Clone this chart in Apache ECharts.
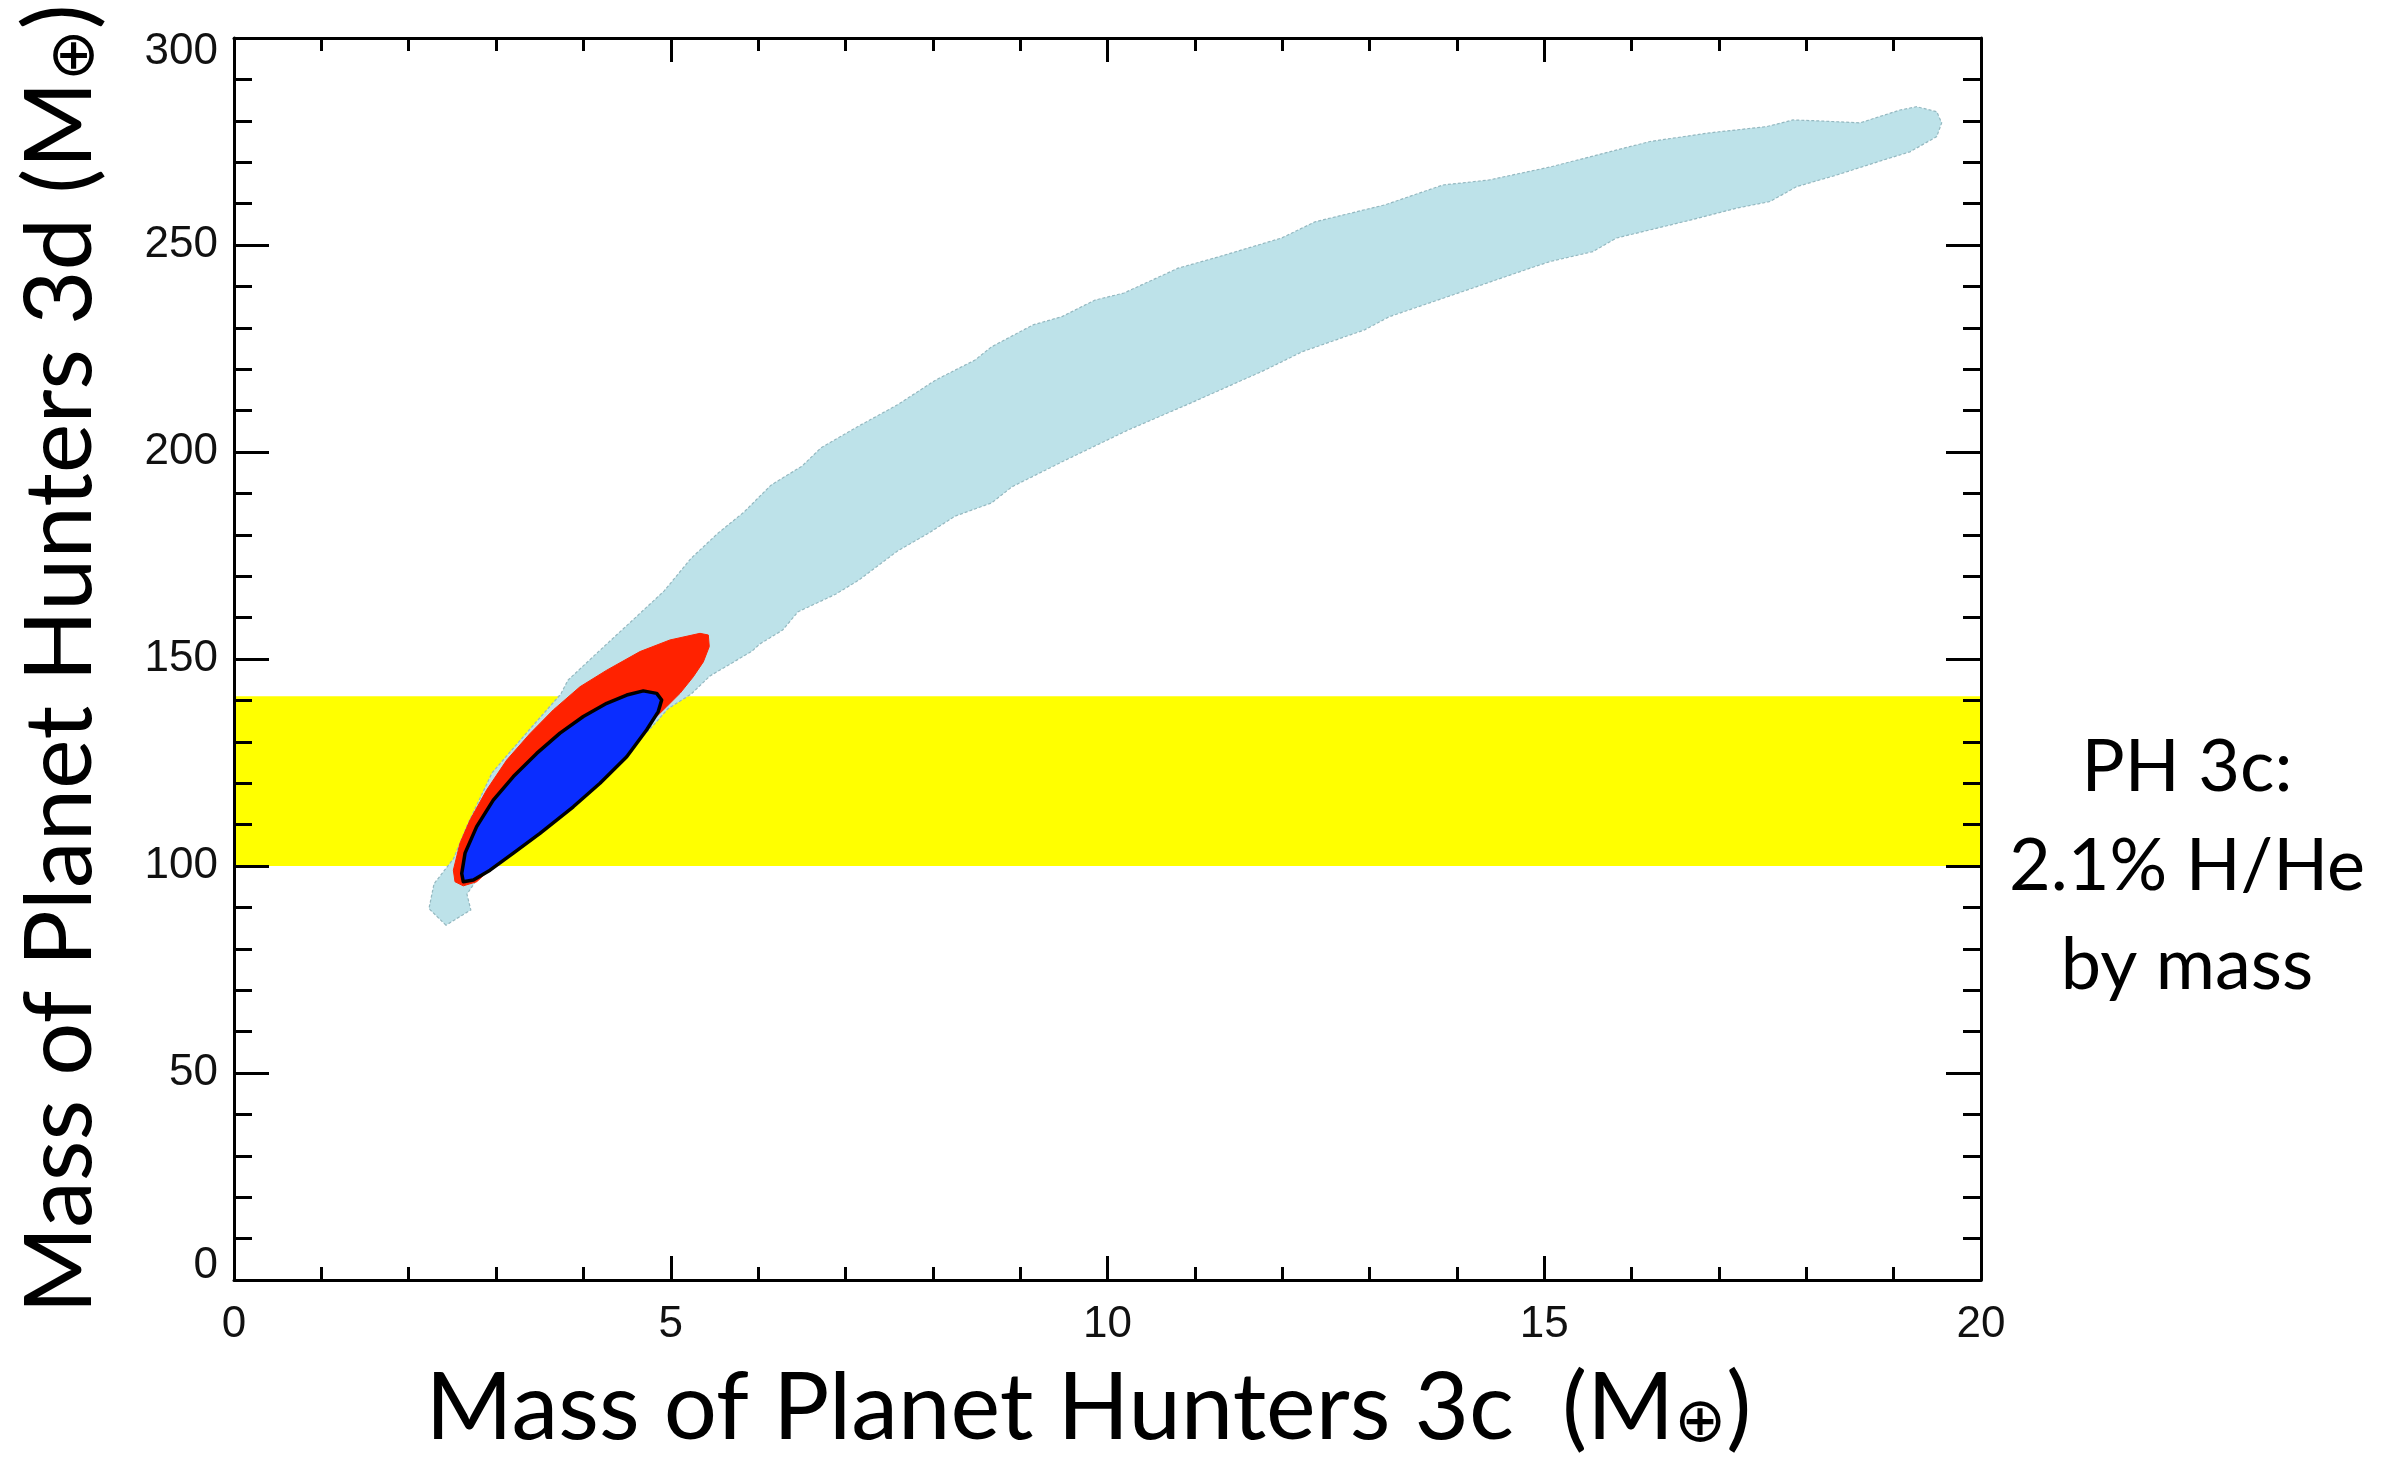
<!DOCTYPE html>
<html>
<head>
<meta charset="utf-8">
<script src="https://cdn.jsdelivr.net/npm/echarts@6/dist/echarts.min.js"></script>
<style>
html,body{margin:0;padding:0;background:#fff;}
#chart{width:2381px;height:1461px;}
</style>
</head>
<body>
<div id="chart"></div>
<script>
// ---- data ----
const xRange = [0, 20];
const yRange = [0, 300];
const xInterval = 5;
const yInterval = 50;
const yellowBand = [100, 141]; // PH 3c with 2.1% H/He by mass

// light blue (outer) confidence region: [M_3c, M_3d]
const lightBlueRegion = [
  [2.427,85.7],[2.232,89.7],[2.290,95.7],[2.514,101.8],[2.667,109.7],[2.954,122.5],
  [3.343,132.0],[3.740,141.5],[3.824,144.9],[4.179,151.9],[4.529,158.7],[4.923,166.4],
  [5.232,174.3],[5.536,180.3],[5.839,185.5],[6.148,192.0],[6.503,196.6],[6.720,201.0],
  [7.155,206.3],[7.596,211.4],[8.034,217.4],[8.483,222.2],[8.672,225.4],[9.147,230.7],
  [9.479,232.7],[9.857,236.7],[10.189,238.4],[10.807,244.4],[11.282,247.2],[11.994,251.7],
  [12.376,255.6],[13.177,259.7],[13.841,264.5],[14.368,265.7],[15.078,268.9],[15.524,271.3],
  [16.211,275.0],[16.898,277.1],[17.547,278.6],[17.848,280.2],[18.119,280.0],[18.615,279.5],
  [19.073,282.6],[19.264,283.4],[19.493,282.2],[19.550,279.5],[19.493,276.2],[19.187,272.5],
  [18.878,270.5],[18.348,266.9],[17.890,264.1],[17.584,260.5],[17.203,258.9],[16.669,256.0],
  [15.829,251.7],[15.558,248.4],[15.066,246.0],[14.837,244.4],[13.892,237.5],[13.228,232.7],
  [12.943,229.5],[12.227,224.2],[11.803,219.8],[10.950,211.8],[10.235,205.3],[9.525,198.1],
  [8.907,191.6],[8.672,187.7],[8.254,184.5],[7.945,180.3],[7.596,176.1],[7.155,169.1],
  [6.892,165.7],[6.457,161.4],[6.281,157.0],[6.018,153.6],[5.930,151.9],[5.449,145.9],
  [5.232,141.5],[4.969,138.0],[4.792,133.8],[4.350,124.2],[3.915,116.4],[3.478,108.7],
  [3.040,101.8],[2.776,96.6],[2.667,93.2],[2.711,89.4]
];

// red (middle) confidence region
const redRegion = [
  [5.430,155.8],[5.335,156.2],[4.991,154.6],[4.648,151.8],[4.267,147.3],[3.961,143.3],
  [3.655,137.7],[3.389,132.0],[3.122,125.6],[2.893,118.4],[2.702,111.1],[2.587,105.5],
  [2.511,99.0],[2.530,96.2],[2.625,95.2],[2.778,96.2],[2.968,99.8],[3.274,105.5],
  [3.580,111.1],[3.884,116.7],[4.190,122.8],[4.496,128.8],[4.762,134.5],[4.954,138.5],
  [5.106,141.7],[5.258,145.7],[5.373,149.3],[5.441,153.0]
];

// blue (inner) confidence region
const blueRegion = [
  [4.839,141.7],[4.896,140.1],[4.857,137.3],[4.725,132.9],[4.496,126.4],[4.190,120.0],
  [3.884,114.3],[3.503,107.9],[3.198,103.1],[2.931,99.0],[2.740,96.6],[2.625,96.2],
  [2.607,98.2],[2.645,103.1],[2.778,109.5],[2.968,115.9],[3.198,121.6],[3.465,127.2],
  [3.732,132.1],[3.999,136.1],[4.267,139.3],[4.496,141.3],[4.686,142.3]
];

const xTitle = 'Mass of Planet Hunters 3c  (M{sub|⊕})';
const yTitle = 'Mass of Planet Hunters 3d (M{sub|⊕})';
const sideNote = ['PH 3c:', '2.1% H/He', 'by mass'];

// ---- chart ----
const chart = echarts.init(document.getElementById('chart'), null, {renderer: 'canvas'});

function polygonSeries(name, pts, style, z) {
  return {
    name: name,
    type: 'custom',
    xAxisIndex: 0, yAxisIndex: 0,
    z: z,
    silent: true,
    clip: true,
    encode: {x: 0, y: 1},
    data: pts,
    renderItem: function (params, api) {
      if (params.dataIndex !== 0) return null;
      return {
        type: 'polygon',
        shape: {points: pts.map(function (p) { return api.coord(p); })},
        style: style
      };
    }
  };
}

const tickFont = {fontFamily: 'Liberation Sans', fontSize: 44, color: '#111'};
const titleFont = 'Lato';
const axisLine = {show: true, onZero: false, lineStyle: {color: '#000', width: 3}};

const option = {
  backgroundColor: '#fff',
  animation: false,
  grid: {left: 234, right: 400, top: 38, bottom: 181, containLabel: false, outerBoundsMode: 'none'},
  xAxis: [{
    type: 'value', min: xRange[0], max: xRange[1], interval: xInterval, position: 'bottom', z: 10,
    axisLine: axisLine,
    axisTick: {show: true, inside: true, length: 24, lineStyle: {color: '#000', width: 3}},
    minorTick: {show: true, splitNumber: 5, length: 13, lineStyle: {color: '#000', width: 3}},
    splitLine: {show: false},
    axisLabel: Object.assign({margin: 23}, tickFont),
    name: xTitle, nameLocation: 'middle', nameGap: 82,
    nameTextStyle: {
      fontFamily: titleFont, fontSize: 94, color: '#000', verticalAlign: 'top',
      padding: [0, 38, 0, 0],
      rich: {sub: {fontFamily: 'DejaVu Sans', fontSize: 62, color: '#000', verticalAlign: 'bottom'}}
    }
  }, {
    type: 'value', min: xRange[0], max: xRange[1], interval: xInterval, position: 'top', z: 10,
    axisLine: axisLine,
    axisTick: {show: true, inside: true, length: 24, lineStyle: {color: '#000', width: 3}},
    minorTick: {show: true, splitNumber: 5, length: 13, lineStyle: {color: '#000', width: 3}},
    splitLine: {show: false},
    axisLabel: {show: false}
  }],
  yAxis: [{
    type: 'value', min: yRange[0], max: yRange[1], interval: yInterval, position: 'left', z: 10,
    axisLine: axisLine,
    axisTick: {show: true, inside: true, length: 35, lineStyle: {color: '#000', width: 3}},
    minorTick: {show: true, splitNumber: 5, length: 18, lineStyle: {color: '#000', width: 3}},
    splitLine: {show: false},
    axisLabel: Object.assign({
      margin: 16,
      formatter: function (v) {
        if (v === yRange[1]) return '{t|' + v + '}';
        if (v === yRange[0]) return '{b|' + v + '}';
        return String(v);
      },
      rich: {
        t: Object.assign({padding: [28, 0, 0, 0]}, tickFont),
        b: Object.assign({padding: [0, 0, 28, 0]}, tickFont)
      }
    }, tickFont),
    name: yTitle, nameLocation: 'middle', nameGap: 126, nameRotate: 90,
    nameTextStyle: {
      fontFamily: titleFont, fontSize: 94, color: '#000',
      rich: {sub: {fontFamily: 'DejaVu Sans', fontSize: 62, color: '#000', verticalAlign: 'bottom'}}
    }
  }, {
    type: 'value', min: yRange[0], max: yRange[1], interval: yInterval, position: 'right', z: 10,
    axisLine: axisLine,
    axisTick: {show: true, inside: true, length: 35, lineStyle: {color: '#000', width: 3}},
    minorTick: {show: true, splitNumber: 5, length: 18, lineStyle: {color: '#000', width: 3}},
    splitLine: {show: false},
    axisLabel: {show: false}
  }],
  series: [
    {
      name: 'band', type: 'custom', xAxisIndex: 0, yAxisIndex: 0, z: 1, silent: true,
      encode: {x: [0, 1], y: [2, 3]},
      data: [[xRange[0], xRange[1], yellowBand[0], yellowBand[1]]],
      renderItem: function (params, api) {
        const p0 = api.coord([api.value(0), api.value(2)]);
        const p1 = api.coord([api.value(1), api.value(3)]);
        return {type: 'rect', shape: {x: p0[0], y: p1[1], width: p1[0] - p0[0], height: p0[1] - p1[1]},
          style: {fill: '#ffff00'}};
      }
    },
    polygonSeries('outer', lightBlueRegion, {fill: '#bde2e9', stroke: '#94b8c0', lineWidth: 1.2, lineDash: [3, 2]}, 2),
    polygonSeries('middle', redRegion, {fill: '#ff2200', stroke: '#ff2200', lineWidth: 1}, 3),
    polygonSeries('inner', blueRegion, {fill: '#0a2dff', stroke: '#000', lineWidth: 3.5, lineJoin: 'round'}, 4)
  ],
  graphic: [{
    type: 'text', x: 2187, y: 718, z: 20,
    style: {
      text: sideNote.join('\n'),
      font: '72px Lato', fill: '#000', align: 'center', verticalAlign: 'top', lineHeight: 99
    }
  }]
};
chart.setOption(option);
</script>
</body>
</html>
